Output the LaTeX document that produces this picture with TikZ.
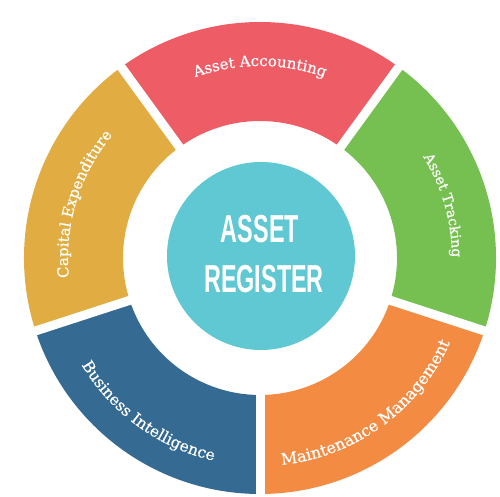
\documentclass[tikz,border=0pt]{standalone}
\usepackage{fontspec}
\usetikzlibrary{decorations.text}
\newfontfamily\slabfont[FakeBold=0.6]{DejaVu Serif}
\newfontfamily\hubfont{Liberation Sans}
\definecolor{cRed}{HTML}{EE5C66}
\definecolor{cGreen}{HTML}{75C050}
\definecolor{cOrange}{HTML}{F38B43}
\definecolor{cBlue}{HTML}{356A92}
\definecolor{cYellow}{HTML}{E1AD42}
\definecolor{cCyan}{HTML}{60C8D3}
\newcommand\ringpart[3]{\fill[#1] (#2:236pt) arc[start angle=#2, end angle=#3, radius=236pt] -- (#3:137pt) arc[start angle=#3, end angle=#2, radius=137pt] -- cycle;}
\newcommand\arctext[5]{\path[decorate, decoration={text along path, text align=center, text={|\slabfont\fontsize{#5}{#5}\selectfont\color{white}|#4}}] (#1:#3) arc[start angle=#1, end angle=#2, radius=#3];}
\begin{document}
\begin{tikzpicture}[x=1pt,y=1pt,
  gapline/.style={white, line width=9pt},
  hubtext/.style={text=white, font=\hubfont\bfseries\fontsize{39}{39}\selectfont, xscale=0.6, inner sep=0pt}]
\useasboundingbox (-260,-239) rectangle (240,258);
\ringpart{cOrange}{270}{342}
\ringpart{cGreen}{-18}{54}
\ringpart{cRed}{54}{126}
\ringpart{cYellow}{126}{198}
\ringpart{cBlue}{198}{270}
\foreach \a in {54,126,198,270,342} \draw[gapline] (0,0) -- (\a:250pt);
\node[circle, fill=cCyan, minimum size=188pt, inner sep=0pt] (hub) at (1,2) {};
\node[hubtext] (asset) at (0,29) {ASSET};
\node[hubtext] (register) at (4,-21) {REGISTER};
\arctext{130}{50}{192pt}{Asset Accounting}{15}
\arctext{52}{-20}{192pt}{Asset Tracking}{14}
\arctext{199}{127}{192pt}{Capital Expenditure}{15}
\arctext{198}{270}{208pt}{Business Intelligence}{15.5}
\arctext{270}{342}{208pt}{Maintenance Management}{16}
\end{tikzpicture}
\end{document}
